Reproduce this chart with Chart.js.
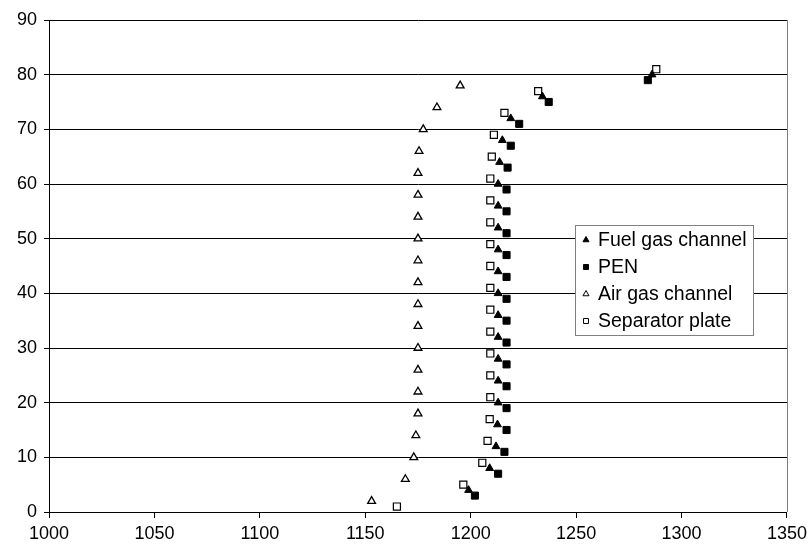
<!DOCTYPE html>
<html>
<head>
<meta charset="utf-8">
<script src="https://cdn.jsdelivr.net/npm/chart.js@4"></script>
<style>
  html, body { margin: 0; padding: 0; background: #fff; }
</style>
</head>
<body>
<canvas id="chart" width="812" height="550"></canvas>
<script>
// Temperature profile along the cell (x: temperature, y: position index)
const fuelX = [1199, 1209, 1212, 1212.7, 1213, 1213, 1213, 1213, 1213, 1213, 1213, 1213, 1213, 1213, 1213, 1213.7, 1215, 1219, 1234, 1286];
const fuelY = [4, 8, 12, 16, 20, 24, 28, 32, 36, 40, 44, 48, 52, 56, 60, 64, 68, 72, 76, 80];

const penX = [1202, 1213, 1216, 1217, 1217, 1217, 1217, 1217, 1217, 1217, 1217, 1217, 1217, 1217, 1217, 1217.5, 1219, 1223, 1237, 1284];
const penY = [3, 7, 11, 15, 19, 23, 27, 31, 35, 39, 43, 47, 51, 55, 59, 63, 67, 71, 75, 79];

const airX = [1153, 1169, 1173, 1174, 1175, 1175, 1175, 1175, 1175, 1175, 1175, 1175, 1175, 1175, 1175, 1175, 1175.5, 1177.5, 1184, 1195];
const airY = [2, 6, 10, 14, 18, 22, 26, 30, 34, 38, 42, 46, 50, 54, 58, 62, 66, 70, 74, 78];

const sepX = [1165, 1196.5, 1205.5, 1208, 1209, 1209.3, 1209.3, 1209.3, 1209.3, 1209.3, 1209.3, 1209.3, 1209.3, 1209.3, 1209.3, 1209.3, 1210, 1211, 1216, 1232, 1288];
const sepY = [1, 5, 9, 13, 17, 21, 25, 29, 33, 37, 41, 45, 49, 53, 57, 61, 65, 69, 73, 77, 81];

const seriesNames = ['Fuel gas channel', 'PEN', 'Air gas channel', 'Separator plate'];
const xTicks = [1000, 1050, 1100, 1150, 1200, 1250, 1300, 1350];
const yTicks = [0, 10, 20, 30, 40, 50, 60, 70, 80, 90];

const FONT = 'Liberation Sans, Arial, sans-serif';

function pts(xs, ys) {
  return xs.map((x, i) => ({ x, y: ys[i] }));
}

// Boxed legend sitting inside the plot area
const boxLegend = {
  id: 'boxLegend',
  afterDraw(chart) {
    const ctx = chart.ctx;
    const left = 575, top = 225, w = 178, h = 110;
    ctx.save();
    ctx.fillStyle = '#fff';
    ctx.fillRect(left, top, w, h);
    ctx.strokeStyle = '#808080';
    ctx.lineWidth = 1;
    ctx.strokeRect(left + 0.5, top + 0.5, w, h);
    ctx.font = '19.5px ' + FONT;
    ctx.textBaseline = 'middle';
    chart.data.datasets.forEach((ds, i) => {
      const cy = top + 15 + i * 27;
      ctx.fillStyle = ds.backgroundColor;
      ctx.strokeStyle = ds.borderColor;
      ctx.lineWidth = 1;
      Chart.helpers.drawPoint(ctx, { pointStyle: ds.pointStyle, radius: 3.5, rotation: 0, borderWidth: 1 }, left + 11, cy);
      ctx.fillStyle = '#000';
      ctx.fillText(ds.label, left + 23, cy + 1);
    });
    ctx.restore();
  }
};

// Gray right edge of the plot frame
const frameEdge = {
  id: 'frameEdge',
  beforeDatasetsDraw(chart) {
    const { ctx, chartArea } = chart;
    ctx.save();
    ctx.strokeStyle = '#808080';
    ctx.lineWidth = 1;
    ctx.beginPath();
    ctx.moveTo(Math.round(chartArea.right) + 0.5, chartArea.top);
    ctx.lineTo(Math.round(chartArea.right) + 0.5, chartArea.bottom);
    ctx.stroke();
    ctx.restore();
  }
};

new Chart(document.getElementById('chart'), {
  type: 'scatter',
  data: {
    datasets: [
      {
        label: seriesNames[0],
        data: pts(fuelX, fuelY),
        pointStyle: 'triangle',
        pointRadius: 4.5,
        backgroundColor: '#000',
        borderColor: '#000',
        borderWidth: 1
      },
      {
        label: seriesNames[1],
        data: pts(penX, penY),
        pointStyle: 'rect',
        pointRadius: 5,
        backgroundColor: '#000',
        borderColor: '#000',
        borderWidth: 1
      },
      {
        label: seriesNames[2],
        data: pts(airX, airY),
        pointStyle: 'triangle',
        pointRadius: 4.5,
        backgroundColor: '#fff',
        borderColor: '#000',
        borderWidth: 1.3
      },
      {
        label: seriesNames[3],
        data: pts(sepX, sepY),
        pointStyle: 'rect',
        pointRadius: 5,
        backgroundColor: '#fff',
        borderColor: '#000',
        borderWidth: 1.2
      }
    ]
  },
  options: {
    responsive: false,
    animation: false,
    layout: { padding: { top: 20, right: 21, left: 0, bottom: 0 } },
    scales: {
      x: {
        type: 'linear',
        min: xTicks[0],
        max: xTicks[xTicks.length - 1],
        afterBuildTicks: axis => { axis.ticks = xTicks.map(v => ({ value: v })); },
        afterFit: axis => { axis.height = 38; },
        ticks: { color: '#000', font: { family: FONT, size: 18 }, padding: 5, maxRotation: 0, callback: v => String(v) },
        grid: { drawOnChartArea: false, drawTicks: true, tickLength: 6, color: '#000' },
        border: { color: '#000' }
      },
      y: {
        min: yTicks[0],
        max: yTicks[yTicks.length - 1],
        afterBuildTicks: axis => { axis.ticks = yTicks.map(v => ({ value: v })); },
        afterFit: axis => { axis.width = 49; },
        ticks: { color: '#000', font: { family: FONT, size: 18 }, padding: 7, callback: v => String(v) },
        grid: { color: '#000', tickLength: 5 },
        border: { color: '#000' }
      }
    },
    plugins: {
      legend: { display: false },
      tooltip: { enabled: false }
    }
  },
  plugins: [frameEdge, boxLegend]
});
</script>
</body>
</html>
